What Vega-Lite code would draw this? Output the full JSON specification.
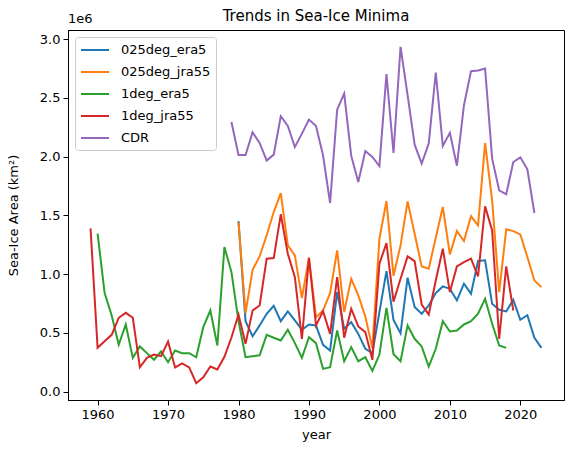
{
  "$schema": "https://vega.github.io/schema/vega-lite/v6.json",
  "width": 496,
  "height": 370,
  "autosize": {"type": "none"},
  "padding": {"left": 68, "top": 30, "right": 9, "bottom": 53},
  "title": {"text": "Trends in Sea-Ice Minima", "fontSize": 15, "fontWeight": "normal", "color": "black", "offset": -11, "anchor": "middle"},
  "config": {
    "font": "DejaVu Sans",
    "view": {"stroke": "black", "strokeWidth": 1},
    "axis": {"grid": false, "domainColor": "black", "tickColor": "black", "tickSize": 5, "labelFontSize": 13, "labelColor": "black", "titleFontSize": 13, "titleFontWeight": "normal", "titleColor": "black", "labelPadding": 3},
    "legend": {"orient": "top-left", "offset": 7, "labelFontSize": 13, "labelColor": "black", "symbolType": "M-1,0H3", "symbolStrokeWidth": 2, "symbolSize": 196, "rowPadding": 7, "padding": 5, "strokeColor": "#cccccc", "fillColor": "rgba(255,255,255,0.8)", "cornerRadius": 3, "labelOffset": 25}
  },
  "layer": [
    {
      "data": {"values": [
        {"series":"025deg_era5","year":1980,"area":1451000},{"series":"025deg_era5","year":1981,"area":599000},{"series":"025deg_era5","year":1982,"area":471000},{"series":"025deg_era5","year":1983,"area":563000},{"series":"025deg_era5","year":1984,"area":662000},{"series":"025deg_era5","year":1985,"area":730000},{"series":"025deg_era5","year":1986,"area":599000},{"series":"025deg_era5","year":1987,"area":682000},{"series":"025deg_era5","year":1988,"area":605000},{"series":"025deg_era5","year":1989,"area":526000},{"series":"025deg_era5","year":1990,"area":571000},{"series":"025deg_era5","year":1991,"area":563000},{"series":"025deg_era5","year":1992,"area":398000},{"series":"025deg_era5","year":1993,"area":349000},{"series":"025deg_era5","year":1994,"area":847000},{"series":"025deg_era5","year":1995,"area":534000},{"series":"025deg_era5","year":1996,"area":591000},{"series":"025deg_era5","year":1997,"area":491000},{"series":"025deg_era5","year":1998,"area":364000},{"series":"025deg_era5","year":1999,"area":327000},{"series":"025deg_era5","year":2000,"area":676000},{"series":"025deg_era5","year":2001,"area":1025000},{"series":"025deg_era5","year":2002,"area":610000},{"series":"025deg_era5","year":2003,"area":497000},{"series":"025deg_era5","year":2004,"area":969000},{"series":"025deg_era5","year":2005,"area":719000},{"series":"025deg_era5","year":2006,"area":662000},{"series":"025deg_era5","year":2007,"area":733000},{"series":"025deg_era5","year":2008,"area":838000},{"series":"025deg_era5","year":2009,"area":895000},{"series":"025deg_era5","year":2010,"area":875000},{"series":"025deg_era5","year":2011,"area":776000},{"series":"025deg_era5","year":2012,"area":918000},{"series":"025deg_era5","year":2013,"area":833000},{"series":"025deg_era5","year":2014,"area":1111000},{"series":"025deg_era5","year":2015,"area":1117000},{"series":"025deg_era5","year":2016,"area":747000},{"series":"025deg_era5","year":2017,"area":696000},{"series":"025deg_era5","year":2018,"area":682000},{"series":"025deg_era5","year":2019,"area":781000},{"series":"025deg_era5","year":2020,"area":611000},{"series":"025deg_era5","year":2021,"area":650000},{"series":"025deg_era5","year":2022,"area":458000},{"series":"025deg_era5","year":2023,"area":372000},
        {"series":"025deg_jra55","year":1980,"area":1440000},{"series":"025deg_jra55","year":1981,"area":667000},{"series":"025deg_jra55","year":1982,"area":1037000},{"series":"025deg_jra55","year":1983,"area":1151000},{"series":"025deg_jra55","year":1984,"area":1330000},{"series":"025deg_jra55","year":1985,"area":1528000},{"series":"025deg_jra55","year":1986,"area":1690000},{"series":"025deg_jra55","year":1987,"area":1244000},{"series":"025deg_jra55","year":1988,"area":1159000},{"series":"025deg_jra55","year":1989,"area":795000},{"series":"025deg_jra55","year":1990,"area":1139000},{"series":"025deg_jra55","year":1991,"area":633000},{"series":"025deg_jra55","year":1992,"area":690000},{"series":"025deg_jra55","year":1993,"area":838000},{"series":"025deg_jra55","year":1994,"area":1202000},{"series":"025deg_jra55","year":1995,"area":676000},{"series":"025deg_jra55","year":1996,"area":960000},{"series":"025deg_jra55","year":1997,"area":818000},{"series":"025deg_jra55","year":1998,"area":639000},{"series":"025deg_jra55","year":1999,"area":372000},{"series":"025deg_jra55","year":2000,"area":1301000},{"series":"025deg_jra55","year":2001,"area":1622000},{"series":"025deg_jra55","year":2002,"area":985000},{"series":"025deg_jra55","year":2003,"area":1244000},{"series":"025deg_jra55","year":2004,"area":1619000},{"series":"025deg_jra55","year":2005,"area":1344000},{"series":"025deg_jra55","year":2006,"area":1065000},{"series":"025deg_jra55","year":2007,"area":1046000},{"series":"025deg_jra55","year":2008,"area":1310000},{"series":"025deg_jra55","year":2009,"area":1571000},{"series":"025deg_jra55","year":2010,"area":1168000},{"series":"025deg_jra55","year":2011,"area":1366000},{"series":"025deg_jra55","year":2012,"area":1281000},{"series":"025deg_jra55","year":2013,"area":1492000},{"series":"025deg_jra55","year":2014,"area":1415000},{"series":"025deg_jra55","year":2015,"area":2115000},{"series":"025deg_jra55","year":2016,"area":1628000},{"series":"025deg_jra55","year":2017,"area":847000},{"series":"025deg_jra55","year":2018,"area":1381000},{"series":"025deg_jra55","year":2019,"area":1366000},{"series":"025deg_jra55","year":2020,"area":1338000},{"series":"025deg_jra55","year":2021,"area":1145000},{"series":"025deg_jra55","year":2022,"area":946000},{"series":"025deg_jra55","year":2023,"area":889000},
        {"series":"1deg_era5","year":1960,"area":1345000},{"series":"1deg_era5","year":1961,"area":838000},{"series":"1deg_era5","year":1962,"area":648000},{"series":"1deg_era5","year":1963,"area":398000},{"series":"1deg_era5","year":1964,"area":571000},{"series":"1deg_era5","year":1965,"area":287000},{"series":"1deg_era5","year":1966,"area":384000},{"series":"1deg_era5","year":1967,"area":327000},{"series":"1deg_era5","year":1968,"area":270000},{"series":"1deg_era5","year":1969,"area":341000},{"series":"1deg_era5","year":1970,"area":250000},{"series":"1deg_era5","year":1971,"area":349000},{"series":"1deg_era5","year":1972,"area":327000},{"series":"1deg_era5","year":1973,"area":327000},{"series":"1deg_era5","year":1974,"area":292000},{"series":"1deg_era5","year":1975,"area":548000},{"series":"1deg_era5","year":1976,"area":690000},{"series":"1deg_era5","year":1977,"area":392000},{"series":"1deg_era5","year":1978,"area":1230000},{"series":"1deg_era5","year":1979,"area":1017000},{"series":"1deg_era5","year":1980,"area":600000},{"series":"1deg_era5","year":1981,"area":292000},{"series":"1deg_era5","year":1982,"area":300000},{"series":"1deg_era5","year":1983,"area":309000},{"series":"1deg_era5","year":1984,"area":483000},{"series":"1deg_era5","year":1985,"area":458000},{"series":"1deg_era5","year":1986,"area":435000},{"series":"1deg_era5","year":1987,"area":526000},{"series":"1deg_era5","year":1988,"area":412000},{"series":"1deg_era5","year":1989,"area":287000},{"series":"1deg_era5","year":1990,"area":463000},{"series":"1deg_era5","year":1991,"area":412000},{"series":"1deg_era5","year":1992,"area":193000},{"series":"1deg_era5","year":1993,"area":207000},{"series":"1deg_era5","year":1994,"area":520000},{"series":"1deg_era5","year":1995,"area":258000},{"series":"1deg_era5","year":1996,"area":378000},{"series":"1deg_era5","year":1997,"area":258000},{"series":"1deg_era5","year":1998,"area":292000},{"series":"1deg_era5","year":1999,"area":176000},{"series":"1deg_era5","year":2000,"area":315000},{"series":"1deg_era5","year":2001,"area":713000},{"series":"1deg_era5","year":2002,"area":318000},{"series":"1deg_era5","year":2003,"area":258000},{"series":"1deg_era5","year":2004,"area":563000},{"series":"1deg_era5","year":2005,"area":449000},{"series":"1deg_era5","year":2006,"area":384000},{"series":"1deg_era5","year":2007,"area":213000},{"series":"1deg_era5","year":2008,"area":364000},{"series":"1deg_era5","year":2009,"area":599000},{"series":"1deg_era5","year":2010,"area":511000},{"series":"1deg_era5","year":2011,"area":520000},{"series":"1deg_era5","year":2012,"area":571000},{"series":"1deg_era5","year":2013,"area":599000},{"series":"1deg_era5","year":2014,"area":662000},{"series":"1deg_era5","year":2015,"area":790000},{"series":"1deg_era5","year":2016,"area":577000},{"series":"1deg_era5","year":2017,"area":392000},{"series":"1deg_era5","year":2018,"area":372000},
        {"series":"1deg_jra55","year":1959,"area":1389000},{"series":"1deg_jra55","year":1960,"area":372000},{"series":"1deg_jra55","year":1961,"area":429000},{"series":"1deg_jra55","year":1962,"area":483000},{"series":"1deg_jra55","year":1963,"area":628000},{"series":"1deg_jra55","year":1964,"area":670000},{"series":"1deg_jra55","year":1965,"area":628000},{"series":"1deg_jra55","year":1966,"area":207000},{"series":"1deg_jra55","year":1967,"area":287000},{"series":"1deg_jra55","year":1968,"area":315000},{"series":"1deg_jra55","year":1969,"area":301000},{"series":"1deg_jra55","year":1970,"area":426000},{"series":"1deg_jra55","year":1971,"area":205000},{"series":"1deg_jra55","year":1972,"area":239000},{"series":"1deg_jra55","year":1973,"area":205000},{"series":"1deg_jra55","year":1974,"area":71000},{"series":"1deg_jra55","year":1975,"area":122000},{"series":"1deg_jra55","year":1976,"area":213000},{"series":"1deg_jra55","year":1977,"area":188000},{"series":"1deg_jra55","year":1978,"area":296000},{"series":"1deg_jra55","year":1979,"area":460000},{"series":"1deg_jra55","year":1980,"area":656000},{"series":"1deg_jra55","year":1981,"area":406000},{"series":"1deg_jra55","year":1982,"area":690000},{"series":"1deg_jra55","year":1983,"area":733000},{"series":"1deg_jra55","year":1984,"area":1131000},{"series":"1deg_jra55","year":1985,"area":1136000},{"series":"1deg_jra55","year":1986,"area":1509000},{"series":"1deg_jra55","year":1987,"area":1173000},{"series":"1deg_jra55","year":1988,"area":974000},{"series":"1deg_jra55","year":1989,"area":449000},{"series":"1deg_jra55","year":1990,"area":1139000},{"series":"1deg_jra55","year":1991,"area":563000},{"series":"1deg_jra55","year":1992,"area":685000},{"series":"1deg_jra55","year":1993,"area":491000},{"series":"1deg_jra55","year":1994,"area":974000},{"series":"1deg_jra55","year":1995,"area":458000},{"series":"1deg_jra55","year":1996,"area":705000},{"series":"1deg_jra55","year":1997,"area":554000},{"series":"1deg_jra55","year":1998,"area":506000},{"series":"1deg_jra55","year":1999,"area":270000},{"series":"1deg_jra55","year":2000,"area":1088000},{"series":"1deg_jra55","year":2001,"area":1264000},{"series":"1deg_jra55","year":2002,"area":765000},{"series":"1deg_jra55","year":2003,"area":960000},{"series":"1deg_jra55","year":2004,"area":1151000},{"series":"1deg_jra55","year":2005,"area":1111000},{"series":"1deg_jra55","year":2006,"area":741000},{"series":"1deg_jra55","year":2007,"area":656000},{"series":"1deg_jra55","year":2008,"area":946000},{"series":"1deg_jra55","year":2009,"area":1216000},{"series":"1deg_jra55","year":2010,"area":847000},{"series":"1deg_jra55","year":2011,"area":1065000},{"series":"1deg_jra55","year":2012,"area":1102000},{"series":"1deg_jra55","year":2013,"area":1131000},{"series":"1deg_jra55","year":2014,"area":980000},{"series":"1deg_jra55","year":2015,"area":1577000},{"series":"1deg_jra55","year":2016,"area":1372000},{"series":"1deg_jra55","year":2017,"area":449000},{"series":"1deg_jra55","year":2018,"area":1065000},{"series":"1deg_jra55","year":2019,"area":690000},
        {"series":"CDR","year":1979,"area":2295000},{"series":"CDR","year":1980,"area":2014000},{"series":"CDR","year":1981,"area":2014000},{"series":"CDR","year":1982,"area":2207000},{"series":"CDR","year":1983,"area":2116000},{"series":"CDR","year":1984,"area":1966000},{"series":"CDR","year":1985,"area":2017000},{"series":"CDR","year":1986,"area":2344000},{"series":"CDR","year":1987,"area":2261000},{"series":"CDR","year":1988,"area":2082000},{"series":"CDR","year":1989,"area":2196000},{"series":"CDR","year":1990,"area":2315000},{"series":"CDR","year":1991,"area":2261000},{"series":"CDR","year":1992,"area":2011000},{"series":"CDR","year":1993,"area":1605000},{"series":"CDR","year":1994,"area":2400000},{"series":"CDR","year":1995,"area":2537000},{"series":"CDR","year":1996,"area":2006000},{"series":"CDR","year":1997,"area":1784000},{"series":"CDR","year":1998,"area":2048000},{"series":"CDR","year":1999,"area":1997000},{"series":"CDR","year":2000,"area":1920000},{"series":"CDR","year":2001,"area":2702000},{"series":"CDR","year":2002,"area":2031000},{"series":"CDR","year":2003,"area":2935000},{"series":"CDR","year":2004,"area":2523000},{"series":"CDR","year":2005,"area":2102000},{"series":"CDR","year":2006,"area":1940000},{"series":"CDR","year":2007,"area":2111000},{"series":"CDR","year":2008,"area":2716000},{"series":"CDR","year":2009,"area":2091000},{"series":"CDR","year":2010,"area":2202000},{"series":"CDR","year":2011,"area":1923000},{"series":"CDR","year":2012,"area":2438000},{"series":"CDR","year":2013,"area":2727000},{"series":"CDR","year":2014,"area":2733000},{"series":"CDR","year":2015,"area":2750000},{"series":"CDR","year":2016,"area":1983000},{"series":"CDR","year":2017,"area":1713000},{"series":"CDR","year":2018,"area":1679000},{"series":"CDR","year":2019,"area":1954000},{"series":"CDR","year":2020,"area":1994000},{"series":"CDR","year":2021,"area":1892000},{"series":"CDR","year":2022,"area":1520000}
      ]},
      "mark": {"type": "line", "strokeWidth": 2, "clip": true},
      "encoding": {
        "x": {"field": "year", "type": "quantitative", "title": "year",
              "scale": {"domain": [1955.8, 2026.2], "nice": false, "zero": false},
              "axis": {"values": [1960, 1970, 1980, 1990, 2000, 2010, 2020], "format": "d", "titlePadding": 7}},
        "y": {"field": "area", "type": "quantitative", "title": "Sea-Ice Area (km²)",
              "scale": {"domain": [-72000, 3078000], "nice": false, "zero": false},
              "axis": {"values": [0, 500000, 1000000, 1500000, 2000000, 2500000, 3000000], "labelExpr": "format(datum.value / 1000000, '.1f')", "titlePadding": 19}},
        "color": {"field": "series", "type": "nominal", "title": null,
                  "scale": {"domain": ["025deg_era5", "025deg_jra55", "1deg_era5", "1deg_jra55", "CDR"], "range": ["#1f77b4", "#ff7f0e", "#2ca02c", "#d62728", "#9467bd"]}}
      }
    },
    {
      "data": {"values": [{"label": "1e6"}]},
      "mark": {"type": "text", "align": "left", "baseline": "bottom", "fontSize": 13, "color": "black", "dy": -4},
      "encoding": {
        "x": {"datum": 1955.8, "type": "quantitative"},
        "y": {"datum": 3078000, "type": "quantitative"},
        "text": {"field": "label"}
      }
    }
  ]
}
